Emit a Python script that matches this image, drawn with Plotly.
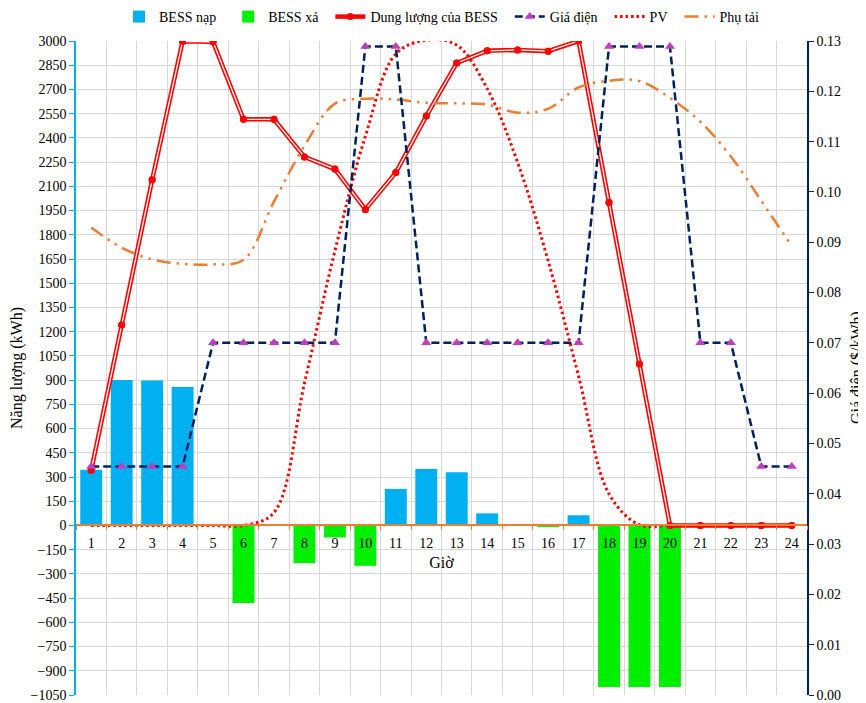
import plotly.graph_objects as go

hours = [str(h) for h in range(1, 25)]

bess_charge = [345, 900, 897, 858, None, None, None, None, None, None, 226, 350,
               329, 75, 6, None, 63, None, None, None, None, None, None, None]
bess_discharge = [None, None, None, None, None, -480, None, -233, -74, -250, None, None,
                  None, None, None, -8, None, -1000, -1000, -1000, None, None, None, None]
soc = [342, 1242, 2140, 2998, 2995, 2515, 2515, 2282, 2207, 1957, 2185, 2535,
       2864, 2939, 2945, 2937, 3000, 2000, 1000, 0, 0, 0, 0, 0]
price = [0.0454, 0.0454, 0.0454, 0.0454, 0.07, 0.07, 0.07, 0.07, 0.07, 0.1289, 0.1289, 0.07,
         0.07, 0.07, 0.07, 0.07, 0.07, 0.1289, 0.1289, 0.1289, 0.07, 0.07, 0.0454, 0.0454]
pv = [0, 0, 0, 0, 0, 0, 80, 880, 1700, 2410, 2920, 3005,
      2975, 2705, 2248, 1640, 925, 195, 4, 0, 0, 0, 0, 0]
load = [1845, 1720, 1647, 1620, 1616, 1645, 2005, 2350, 2612, 2642, 2638, 2617,
        2614, 2606, 2556, 2580, 2712, 2754, 2752, 2648, 2500, 2285, 2010, 1730]

FONT = "Liberation Serif"
PAD = "\u00a0\u00a0"

fig = go.Figure()

fig.add_trace(go.Bar(x=hours, y=bess_charge, name="BESS nạp" + PAD,
                     marker=dict(color="#00B0F0", line=dict(width=0))))
fig.add_trace(go.Bar(x=hours, y=bess_discharge, name="BESS xả" + PAD,
                     marker=dict(color="#00F000", line=dict(width=0))))

# SOC: double red line imitation
fig.add_trace(go.Scatter(x=hours, y=soc, name="Dung lượng của BESS" + PAD, mode="lines+markers",
                         line=dict(color="#FF0000", width=4.5),
                         marker=dict(color="#FF0000", size=7, symbol="circle")))
fig.add_trace(go.Scatter(x=hours, y=soc, mode="lines", showlegend=False, hoverinfo="skip",
                         line=dict(color="#FFFFFF", width=1.3)))
fig.add_trace(go.Scatter(x=hours, y=soc, mode="markers", showlegend=False, hoverinfo="skip",
                         marker=dict(color="#FF0000", size=7, symbol="circle")))

fig.add_trace(go.Scatter(x=hours, y=price, name="Giá điện" + PAD, yaxis="y2", mode="lines+markers",
                         line=dict(color="#002060", width=2.5, dash="8px,4px"),
                         marker=dict(color="#C03CC0", size=9, symbol="triangle-up")))

fig.add_trace(go.Scatter(x=hours, y=pv, name="PV" + PAD, mode="lines",
                         line=dict(color="#FF0000", width=3, dash="2.5px,3px",
                                   shape="spline", smoothing=1)))

fig.add_trace(go.Scatter(x=hours, y=load, name="Phụ tải", mode="lines",
                         line=dict(color="#ED7D31", width=2.5,
                                   dash="14px,6px,2.5px,6px,2.5px,6px",
                                   shape="spline", smoothing=1)))

zero_pos = 1050 / 4050

fig.update_layout(
    width=858, height=695,
    margin=dict(l=68, r=59, t=33, b=8, autoexpand=False),
    paper_bgcolor="white", plot_bgcolor="white",
    font=dict(family=FONT, size=14, color="#000000"),
    barmode="relative", bargap=0.28,
    showlegend=True,
    legend=dict(orientation="h", x=0.5, xanchor="center", y=1 + 24 / 654, yanchor="middle",
                font=dict(family=FONT, size=14), bgcolor="rgba(0,0,0,0)"),
    xaxis=dict(type="category", anchor="free", position=zero_pos,
               range=[-0.5, 23.5], tickson="boundaries",
               showgrid=True, gridcolor="#D9D9D9", gridwidth=1,
               showline=True, linecolor="#ED7D31", linewidth=1.5,
               ticks="outside", ticklen=4, tickcolor="#ED7D31",
               ticklabelstandoff=5,
               tickfont=dict(family=FONT, size=14),
               title=dict(text="Giờ", font=dict(family=FONT, size=16), standoff=6),
               zeroline=False),
    yaxis=dict(range=[-1050, 3000], dtick=150, tick0=0,
               showgrid=True, gridcolor="#D9D9D9", gridwidth=1,
               showline=True, linecolor="#00B0F0", linewidth=1.5,
               ticks="outside", ticklen=5, tickcolor="#00B0F0",
               tickfont=dict(family=FONT, size=14),
               title=dict(text="Năng lượng (kWh)", font=dict(family=FONT, size=16), standoff=8),
               zeroline=False),
    yaxis2=dict(range=[0, 0.13], dtick=0.01, tick0=0, tickformat=".2f",
                overlaying="y", side="right",
                showgrid=False, showline=True, linecolor="#002060", linewidth=1.5,
                ticks="outside", ticklen=5, tickcolor="#002060",
                tickfont=dict(family=FONT, size=14),
                zeroline=False),
    annotations=[dict(text="Giá điện ($/kWh)", textangle=-90, showarrow=False,
                      xref="paper", yref="paper", x=(849 - 68) / 731, y=0.5,
                      xanchor="center", yanchor="middle",
                      font=dict(family=FONT, size=16))],
)

fig.write_html("out.html")
